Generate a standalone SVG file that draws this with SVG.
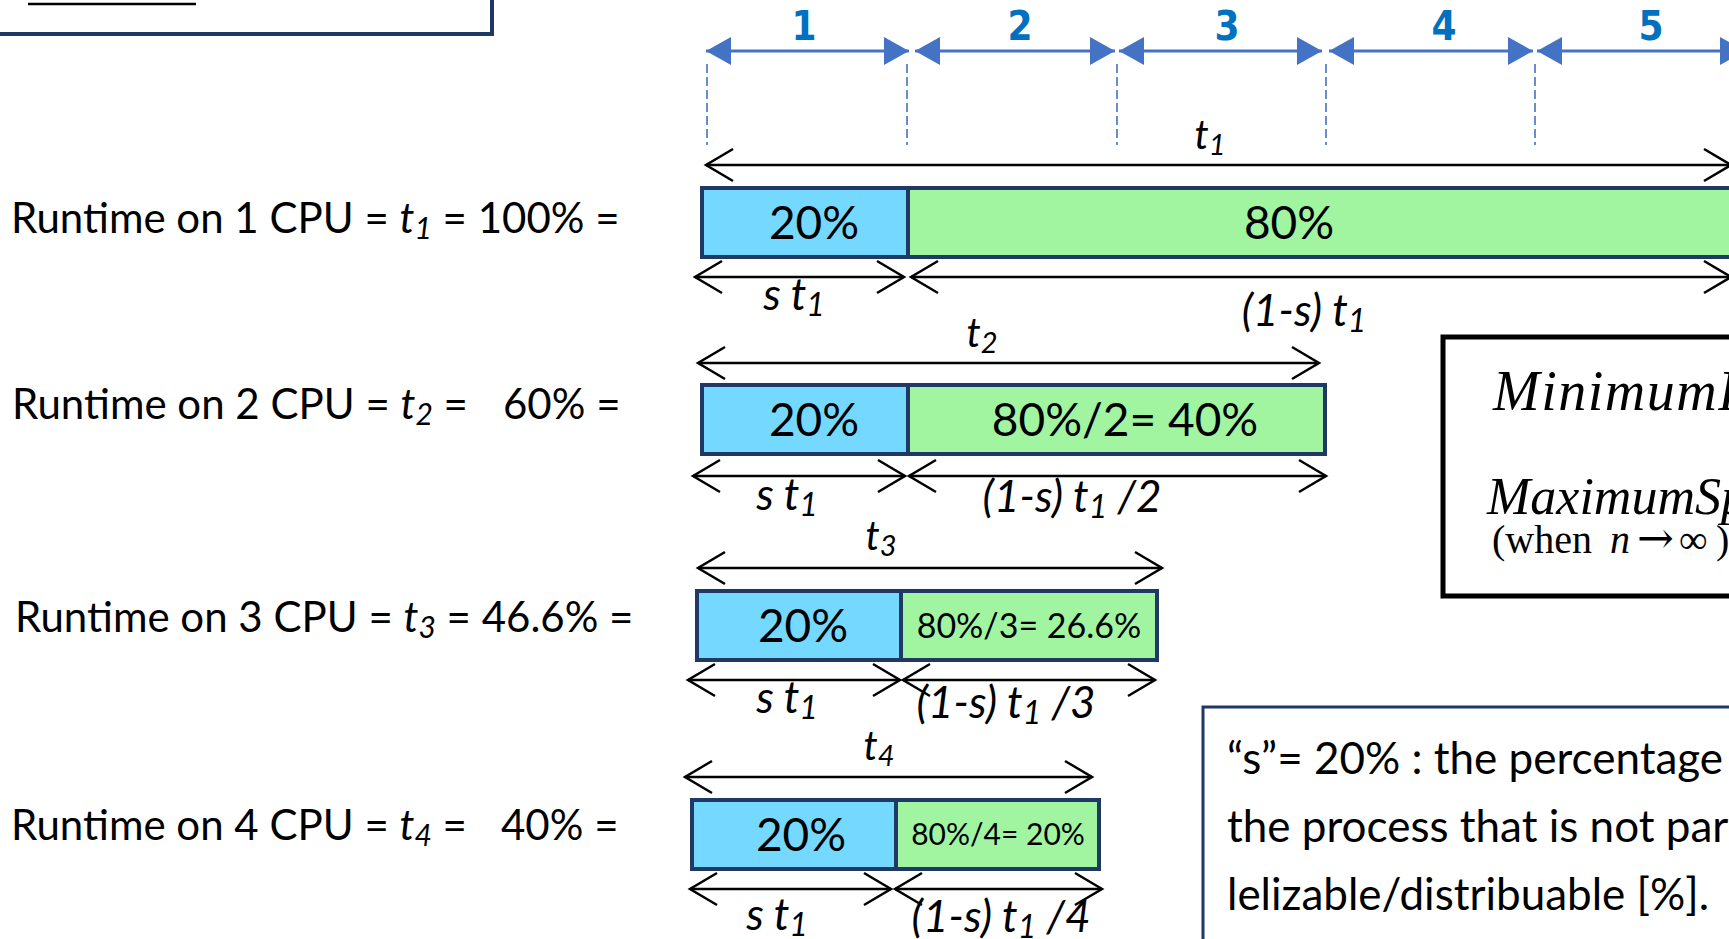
<svg xmlns="http://www.w3.org/2000/svg" width="1729" height="939" viewBox="0 0 1729 939">
<style>
.lbl{font-family:Lato,"Open Sans",sans-serif;font-size:42px;fill:#000}
.bar{font-family:Lato,"Open Sans",sans-serif;font-size:46px;fill:#000;text-anchor:middle}
.ital{font-family:Lato,"Open Sans",sans-serif;font-style:italic;font-size:44px;fill:#000;text-anchor:middle}
.sub{font-size:32px}
.num{font-family:"DejaVu Sans Condensed","DejaVu Sans",sans-serif;font-weight:bold;font-size:40px;fill:#0070C0;text-anchor:middle}
.ser{font-family:"Liberation Serif","Times New Roman",serif;fill:#000}
.note{font-family:Lato,"Open Sans",sans-serif;font-size:44px;fill:#000}
.blue{fill:#75D9FF;stroke:#1F3864;stroke-width:4}
.green{fill:#A2F5A0;stroke:#1F3864;stroke-width:4}
.dim{stroke:#000;stroke-width:2.5;fill:none;marker-start:url(#chev);marker-end:url(#chev)}
.seg{stroke:#4472C4;stroke-width:3;fill:none;marker-start:url(#tri);marker-end:url(#tri)}
.dash{stroke:#4472C4;stroke-width:1.6;stroke-dasharray:9 4}
</style>
<defs>
<marker id="tri" viewBox="0 0 25 28" refX="25" refY="14" markerWidth="25" markerHeight="28" markerUnits="userSpaceOnUse" orient="auto-start-reverse">
<path d="M0,0 L25,14 L0,28 Z" fill="#4472C4"/>
</marker>
<marker id="chev" viewBox="-30 -18 32 36" refX="0" refY="0" markerWidth="32" markerHeight="36" markerUnits="userSpaceOnUse" orient="auto-start-reverse" overflow="visible">
<path d="M-27,-16 L0,0 L-27,16" fill="none" stroke="#000" stroke-width="2.5"/>
</marker>
</defs>
<rect width="1729" height="939" fill="#fff"/>

<g id="title-box">
<rect x="-10" y="-20" width="502" height="54" fill="none" stroke="#1F3864" stroke-width="4"/>
<line x1="28" y1="4" x2="196" y2="4" stroke="#000" stroke-width="2.5"/>
</g>

<g id="cpu-scale">
<text class="num" x="804" y="40">1</text>
<text class="num" x="1020" y="40">2</text>
<text class="num" x="1227" y="40">3</text>
<text class="num" x="1444" y="40">4</text>
<text class="num" x="1651" y="40">5</text>
<line class="dash" x1="707" y1="64" x2="707" y2="145"/>
<line class="dash" x1="907" y1="64" x2="907" y2="145"/>
<line class="dash" x1="1117" y1="64" x2="1117" y2="145"/>
<line class="dash" x1="1326" y1="64" x2="1326" y2="145"/>
<line class="dash" x1="1535" y1="64" x2="1535" y2="145"/>
</g>

<g id="row1">
<text class="lbl" x="11" y="233">Runtime on 1 CPU = <tspan font-style="italic">t</tspan><tspan font-style="italic" style="font-size:30px" dy="6">1</tspan><tspan dy="-6"> = 100% =</tspan></text>
<rect class="blue" x="702" y="188" width="206" height="69"/>
<rect class="green" x="908" y="188" width="840" height="69"/>
<text class="bar" x="814" y="239">20%</text>
<text class="bar" x="1289" y="239">80%</text>
<text class="ital" x="1210" y="149" style="font-size:40px">t<tspan style="font-size:29px" dy="6">1</tspan></text>
<text class="ital" x="794" y="310">s t<tspan class="sub" dy="6">1</tspan></text>
<text class="ital" x="1304" y="326">(1-s) t<tspan class="sub" dy="6">1</tspan></text>
</g>

<g id="row2">
<text class="lbl" x="12" y="419">Runtime on 2 CPU = <tspan font-style="italic">t</tspan><tspan font-style="italic" style="font-size:30px" dy="6">2</tspan><tspan dy="-6"> =</tspan><tspan x="503">60% =</tspan></text>
<rect class="blue" x="702" y="385" width="206" height="69"/>
<rect class="green" x="908" y="385" width="417" height="69"/>
<text class="bar" x="814" y="436">20%</text>
<text class="bar" x="1125" y="436">80%/2= 40%</text>
<text class="ital" x="982" y="347" style="font-size:40px">t<tspan style="font-size:29px" dy="6">2</tspan></text>
<text class="ital" x="787" y="510">s t<tspan class="sub" dy="6">1</tspan></text>
<text class="ital" x="1072" y="512">(1-s) t<tspan class="sub" dy="6">1</tspan><tspan dy="-6"> /2</tspan></text>
</g>

<g id="row3">
<text class="lbl" x="15" y="632">Runtime on 3 CPU = <tspan font-style="italic">t</tspan><tspan font-style="italic" style="font-size:30px" dy="6">3</tspan><tspan dy="-6"> = 46.6% =</tspan></text>
<rect class="blue" x="697" y="591" width="204" height="69"/>
<rect class="green" x="901" y="591" width="256" height="69"/>
<text class="bar" x="803" y="642">20%</text>
<text class="bar" x="1029" y="638" style="font-size:34px">80%/3= 26.6%</text>
<text class="ital" x="881" y="550" style="font-size:40px">t<tspan style="font-size:29px" dy="6">3</tspan></text>
<text class="ital" x="787" y="713">s t<tspan class="sub" dy="6">1</tspan></text>
<text class="ital" x="1006" y="718">(1-s) t<tspan class="sub" dy="6">1</tspan><tspan dy="-6"> /3</tspan></text>
</g>

<g id="row4">
<text class="lbl" x="11" y="840">Runtime on 4 CPU = <tspan font-style="italic">t</tspan><tspan font-style="italic" style="font-size:30px" dy="6">4</tspan><tspan dy="-6"> =</tspan><tspan x="501">40% =</tspan></text>
<rect class="blue" x="692" y="800" width="204" height="69"/>
<rect class="green" x="896" y="800" width="203" height="69"/>
<text class="bar" x="801" y="851">20%</text>
<text class="bar" x="998" y="845" style="font-size:30px">80%/4= 20%</text>
<text class="ital" x="879" y="760" style="font-size:40px">t<tspan style="font-size:29px" dy="6">4</tspan></text>
<text class="ital" x="777" y="930">s t<tspan class="sub" dy="6">1</tspan></text>
<text class="ital" x="1001" y="932">(1-s) t<tspan class="sub" dy="6">1</tspan><tspan dy="-6"> /4</tspan></text>
</g>

<g id="formula-box">
<rect x="1443" y="337" width="320" height="259" fill="#fff" stroke="#000" stroke-width="5"/>
<text class="ser" x="1493" y="410" font-size="56" font-style="italic" letter-spacing="1.5">MinimumRuntime</text>
<text class="ser" x="1487" y="514" font-size="52" font-style="italic">MaximumSpeedup</text>
<text class="ser" x="1492" y="553" font-size="40">(when<tspan x="1610" font-style="italic">n</tspan><tspan x="1637" font-family="'DejaVu Serif',serif" font-size="44">→</tspan><tspan x="1679">∞</tspan><tspan x="1716">)</tspan></text>
</g>

<g id="note-box">
<rect x="1203" y="707" width="560" height="260" fill="#fff" stroke="#1F3864" stroke-width="3"/>
<text class="note" x="1227" y="774">“s”= 20% : the percentage</text>
<text class="note" x="1227" y="842">the process that is not par</text>
<text class="note" x="1227" y="910">lelizable/distribuable [%].</text>
</g>

<g id="connectors">
<line class="seg" x1="706" y1="51" x2="909" y2="51"/>
<line class="seg" x1="915" y1="51" x2="1115" y2="51"/>
<line class="seg" x1="1119" y1="51" x2="1322" y2="51"/>
<line class="seg" x1="1329" y1="51" x2="1533" y2="51"/>
<line class="seg" x1="1537" y1="51" x2="1745" y2="51"/>
<line class="dim" x1="706" y1="165" x2="1731" y2="165"/>
<line class="dim" x1="695" y1="277" x2="904" y2="277"/>
<line class="dim" x1="911" y1="277" x2="1731" y2="277"/>
<line class="dim" x1="698" y1="363" x2="1319" y2="363"/>
<line class="dim" x1="693" y1="476" x2="905" y2="476"/>
<line class="dim" x1="909" y1="476" x2="1326" y2="476"/>
<line class="dim" x1="698" y1="568" x2="1162" y2="568"/>
<line class="dim" x1="688" y1="680" x2="900" y2="680"/>
<line class="dim" x1="903" y1="680" x2="1155" y2="680"/>
<line class="dim" x1="685" y1="777" x2="1092" y2="777"/>
<line class="dim" x1="690" y1="889" x2="891" y2="889"/>
<line class="dim" x1="895" y1="889" x2="1102" y2="889"/>
</g>
</svg>
